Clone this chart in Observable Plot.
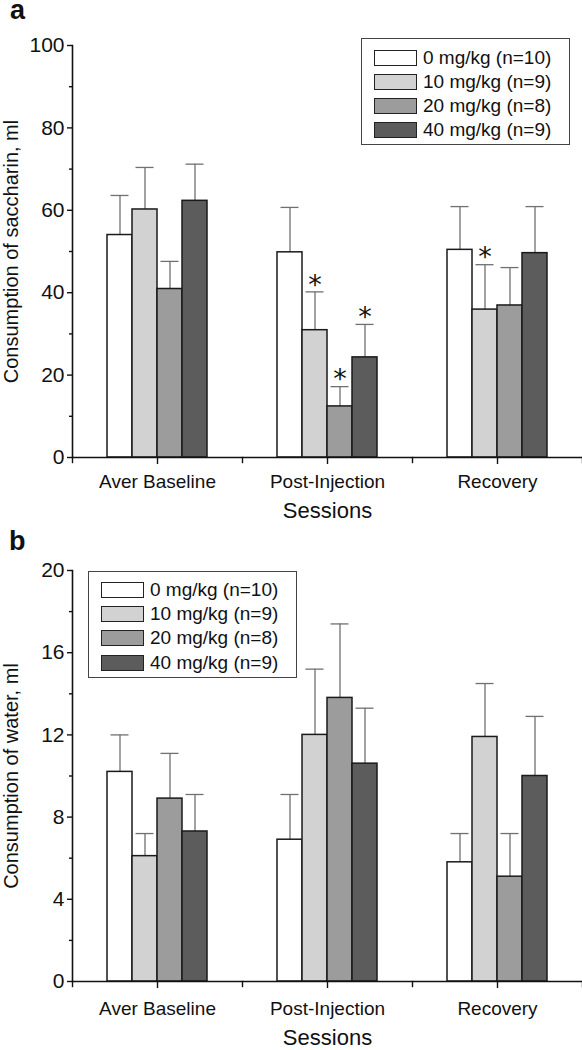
<!DOCTYPE html>
<html><head><meta charset="utf-8">
<script src="https://cdn.jsdelivr.net/npm/d3@7"></script>
<script src="https://cdn.jsdelivr.net/npm/@observablehq/plot@0.6"></script>
<style>
body{margin:0;background:#fff;font-family:"Liberation Sans",Arial,sans-serif;color:#111;}
#wrap{position:relative;width:582px;height:1050px;overflow:hidden;}
.panel{position:absolute;left:0;}
.plab{position:absolute;font-weight:bold;font-size:27px;line-height:20px;}
.legend{position:absolute;border:1px solid #444;background:#fff;box-sizing:border-box;}
.row{position:absolute;left:12px;height:20px;display:flex;align-items:center;white-space:nowrap;}
.sw{width:43px;height:16px;border:1.5px solid #222;box-sizing:border-box;margin-right:6px;}
.row span{font-size:19px;}
</style></head>
<body>
<div id="wrap"></div>
<script>
// ---- data ----
const sessions = ["Aver Baseline", "Post-Injection", "Recovery"];
const doses = ["0 mg/kg (n=10)", "10 mg/kg (n=9)", "20 mg/kg (n=8)", "40 mg/kg (n=9)"];
const doseFills = ["#ffffff", "#d2d2d2", "#9c9c9c", "#5c5c5c"];

// saccharin consumption (ml): means and mean+SEM, per dose across sessions
const sacMean0  = [54.0, 49.8, 50.4];
const sacMean10 = [60.2, 30.9, 35.9];
const sacMean20 = [40.9, 12.4, 36.9];
const sacMean40 = [62.3, 24.3, 49.6];
const sacUpper0  = [63.6, 60.7, 60.9];
const sacUpper10 = [70.4, 40.2, 46.8];
const sacUpper20 = [47.6, 17.2, 46.1];
const sacUpper40 = [71.2, 32.3, 60.9];
// significant cells (session, dose index)
const sacStarSessions = ["Post-Injection", "Post-Injection", "Post-Injection", "Recovery"];
const sacStarDoses = [1, 2, 3, 1];

// water consumption (ml)
const watMean0  = [10.2, 6.9, 5.8];
const watMean10 = [6.1, 12.0, 11.9];
const watMean20 = [8.9, 13.8, 5.1];
const watMean40 = [7.3, 10.6, 10.0];
const watUpper0  = [12.0, 9.1, 7.2];
const watUpper10 = [7.2, 15.2, 14.5];
const watUpper20 = [11.1, 17.4, 7.2];
const watUpper40 = [9.1, 13.3, 12.9];

const sacTicks = [0, 20, 40, 60, 80, 100];
const sacMinor = [10, 30, 50, 70, 90];
const watTicks = [0, 4, 8, 12, 16, 20];
const watMinor = [2, 6, 10, 14, 18];

// ---- build tables ----
function buildRows(means, uppers, starS, starD) {
  const rows = [];
  sessions.forEach((s, si) => {
    doses.forEach((d, di) => {
      const star = starS.some((ss, k) => ss === s && starD[k] === di);
      rows.push({session: s, dose: d, mean: means[di][si], upper: uppers[di][si], star});
    });
  });
  return rows;
}
const sacRows = buildRows([sacMean0, sacMean10, sacMean20, sacMean40],
                          [sacUpper0, sacUpper10, sacUpper20, sacUpper40], sacStarSessions, sacStarDoses);
const watRows = buildRows([watMean0, watMean10, watMean20, watMean40],
                          [watUpper0, watUpper10, watUpper20, watUpper40], [], []);

function panel({rows, yDomain, ticks, minor, ylabel, marginBottom, fxPad, sessOffset}) {
  const H = 525, MT = 45;
  const innerH = H - MT - marginBottom;
  return Plot.plot({
    width: 582, height: H, marginTop: MT, marginLeft: 72, marginRight: 0, marginBottom,
    style: {fontFamily: "Liberation Sans, Arial, sans-serif", fontSize: "19px", color: "#111", background: "white", overflow: "visible"},
    fx: {domain: sessions, padding: 0},
    x: {domain: doses, padding: 0, paddingOuter: 4 / 3, axis: null},
    y: {domain: yDomain},
    color: {domain: doses, range: doseFills},
    marks: [
      Plot.ruleX(rows, {fx: "session", x: "dose", y1: "mean", y2: "upper", stroke: "#707070", strokeWidth: 1.3}),
      Plot.tickY(rows, {fx: "session", x: "dose", y: "upper", stroke: "#707070", strokeWidth: 1.3, insetLeft: 3.5, insetRight: 3.5}),
      Plot.barY(rows, {fx: "session", x: "dose", y: "mean", fill: "dose", stroke: "#1a1a1a", strokeWidth: 1.5}),
      Plot.text(rows.filter(r => r.star), {fx: "session", x: "dose", y: "upper", text: () => "*", dy: -7, fontSize: 27, fill: "#111", fontFamily: "DejaVu Sans"}),
      Plot.ruleY([0], {stroke: "#111", strokeWidth: 1.6}),
      Plot.frame({anchor: "left", facetAnchor: "left", stroke: "#111", strokeWidth: 1.6}),
      Plot.frame({anchor: "left", insetTop: innerH, insetBottom: -5, stroke: "#111", strokeWidth: 1.4}),
      Plot.frame({anchor: "right", facetAnchor: "right", insetTop: innerH, insetBottom: -5, stroke: "#111", strokeWidth: 1.4}),
      Plot.axisY({ticks, tickSize: 5, tickPadding: 3, label: null, fontSize: 21, strokeWidth: 1.4}),
      Plot.axisY({ticks: minor, tickSize: 3, tickFormat: () => "", label: null, strokeWidth: 1.4}),
      Plot.axisY({ticks: [], label: ylabel, labelAnchor: "center", labelArrow: "none", labelOffset: 69, fontSize: 20}),
      Plot.axisFx({anchor: "bottom", tickSize: 7, tickPadding: fxPad, label: null, fontSize: 19, strokeWidth: 1.4}),
      Plot.axisFx({anchor: "bottom", ticks: [], label: "Sessions", labelAnchor: "center", labelArrow: "none", labelOffset: sessOffset, fontSize: 22})
    ]
  });
}

function legend(top, left, rowTops) {
  const box = document.createElement("div");
  box.className = "legend";
  Object.assign(box.style, {top: top + "px", left: left + "px", width: "209px", height: "107px"});
  doses.forEach((d, i) => {
    const row = document.createElement("div");
    row.className = "row";
    row.style.top = rowTops[i] + "px";
    const sw = document.createElement("div");
    sw.className = "sw";
    sw.style.background = doseFills[i];
    const t = document.createElement("span");
    t.textContent = d;
    row.appendChild(sw); row.appendChild(t);
    box.appendChild(row);
  });
  return box;
}

const wrap = document.getElementById("wrap");

const pa = panel({rows: sacRows, yDomain: [0, 100], ticks: sacTicks, minor: sacMinor,
  ylabel: "Consumption of saccharin, ml", marginBottom: 68, fxPad: 10, sessOffset: 60});
pa.classList.add("panel"); pa.style.top = "0px";
wrap.appendChild(pa);

const pb = panel({rows: watRows, yDomain: [0, 20], ticks: watTicks, minor: watMinor,
  ylabel: "Consumption of water, ml", marginBottom: 69, fxPad: 13, sessOffset: 63});
pb.classList.add("panel"); pb.style.top = "525px";
wrap.appendChild(pb);

wrap.appendChild(legend(38, 361, [9, 33, 57, 81]));
wrap.appendChild(legend(571, 88, [8, 32, 56, 81]));

const la = document.createElement("div");
la.className = "plab"; la.textContent = "a";
Object.assign(la.style, {left: "10px", top: "0px"});
wrap.appendChild(la);
const lb = document.createElement("div");
lb.className = "plab"; lb.textContent = "b";
Object.assign(lb.style, {left: "9px", top: "531px"});
wrap.appendChild(lb);
</script>
</body></html>
